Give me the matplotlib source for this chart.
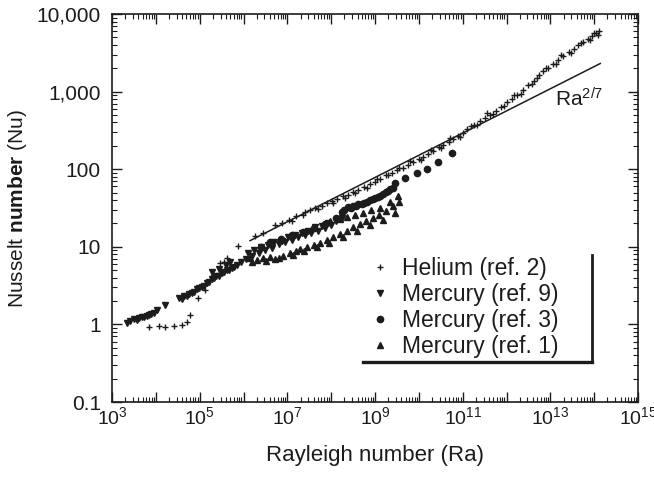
import numpy as np
import matplotlib
matplotlib.use("Agg")
import matplotlib.pyplot as plt
from matplotlib.ticker import LogLocator, FixedLocator, FuncFormatter, NullFormatter
from matplotlib.lines import Line2D

plt.rcParams['font.family'] = ['Liberation Sans', 'DejaVu Sans']
plt.rcParams['mathtext.fontset'] = 'custom'
plt.rcParams['mathtext.rm'] = 'Liberation Sans'
plt.rcParams['mathtext.it'] = 'Liberation Sans:italic'
plt.rcParams['mathtext.bf'] = 'Liberation Sans:bold'

# ---- data (log10 Ra, log10 Nu) ----
helium_logra = [3.84, 4.07, 4.21, 4.42, 4.60, 4.71, 4.78, 4.96, 5.12, 5.47, 5.56, 5.63, 5.88,
                6.26, 6.45, 6.72, 6.88, 7.04, 7.20, 7.41, 7.52, 7.63, 7.78, 7.91, 8.02, 8.14,
                8.26, 8.39, 8.50, 8.62, 8.75, 8.89, 9.00, 9.12, 9.25, 9.39, 9.50, 9.64, 9.75,
                9.87, 10.00, 10.10, 10.22, 10.33, 10.45, 10.56, 10.68, 10.79, 10.90, 11.01,
                11.11, 11.25, 11.40, 11.50, 11.62, 11.75, 11.88, 12.00, 12.12, 12.25, 12.38,
                12.50, 12.62, 12.75, 12.84, 12.95, 13.07, 13.18, 13.30, 13.42, 13.53, 13.64,
                13.75, 13.86, 13.96, 14.05, 14.12,
                7.10, 7.35, 7.70, 8.05, 8.32, 8.55, 8.82, 9.05, 9.30, 9.55, 9.80, 10.05,
                10.28, 10.50, 10.72, 10.95, 11.18, 11.32, 11.55, 11.70, 11.95, 12.18, 12.32,
                12.58, 12.70, 12.90, 13.12, 13.25, 13.48, 13.70, 13.90, 14.00, 14.08]
helium_lognu = [-0.03, -0.02, -0.03, -0.02, -0.01, 0.03, 0.12, 0.34, 0.44, 0.79, 0.80, 0.86, 1.01,
                1.14, 1.18, 1.28, 1.31, 1.35, 1.40, 1.45, 1.47, 1.50, 1.53, 1.56, 1.59, 1.62,
                1.65, 1.67, 1.70, 1.73, 1.77, 1.81, 1.84, 1.88, 1.92, 1.95, 1.99, 2.02, 2.05,
                2.09, 2.13, 2.16, 2.20, 2.23, 2.28, 2.31, 2.35, 2.39, 2.43, 2.47,
                2.52, 2.57, 2.62, 2.66, 2.70, 2.75, 2.80, 2.86, 2.90, 2.96, 3.02,
                3.08, 3.14, 3.21, 3.26, 3.30, 3.35, 3.41, 3.46, 3.51, 3.55, 3.60,
                3.64, 3.68, 3.72, 3.75, 3.78,
                1.33, 1.41, 1.49, 1.57, 1.63, 1.69, 1.76, 1.87, 1.93, 2.02, 2.10, 2.12,
                2.25, 2.27, 2.40, 2.42, 2.56, 2.57, 2.72, 2.71, 2.82, 2.95, 2.97,
                3.10, 3.18, 3.31, 3.36, 3.47, 3.50, 3.63, 3.67, 3.76, 3.73]

hg9_logra = [3.34, 3.42, 3.50, 3.56, 3.62, 3.68, 3.73, 3.79, 3.84, 3.90, 3.96, 4.03, 4.21,
             4.53, 4.60, 4.64, 4.70, 4.76, 4.82, 4.87, 4.93, 4.99, 5.05, 5.10, 5.16, 5.21,
             5.27, 5.28, 5.33, 5.38, 5.44, 5.45, 5.50, 5.56, 5.60, 5.62, 5.67, 5.70, 5.73,
             5.79, 5.85, 5.95, 6.05, 6.20, 6.35, 6.50, 6.65, 6.80, 6.95, 7.10, 7.25, 7.40,
             7.55, 7.70, 7.85, 8.00,
             6.10, 6.25, 6.40, 6.55, 6.70, 6.87, 7.02, 7.18, 7.33, 7.48, 7.62, 7.78, 7.92,
             8.10, 8.25]
hg9_lognu = [0.02, 0.05, 0.07, 0.06, 0.08, 0.09, 0.10, 0.11, 0.12, 0.14, 0.15, 0.19, 0.25,
             0.34, 0.33, 0.36, 0.37, 0.39, 0.40, 0.42, 0.45, 0.47, 0.48, 0.50, 0.53, 0.55,
             0.58, 0.68, 0.60, 0.62, 0.63, 0.72, 0.66, 0.68, 0.76, 0.70, 0.70, 0.80, 0.73,
             0.74, 0.76, 0.80, 0.84, 0.88, 0.92, 0.96, 0.99, 1.03, 1.06, 1.09, 1.12, 1.15,
             1.18, 1.21, 1.24, 1.28,
             0.92, 0.96, 1.00, 1.02, 1.06, 1.08, 1.12, 1.15, 1.18, 1.21, 1.25, 1.27, 1.31,
             1.33, 1.37]

hg3_logra = [6.40, 6.60, 6.85, 7.10, 7.35, 7.60, 7.85, 8.10, 8.25, 8.39, 8.50, 8.62, 8.75,
             8.88, 9.00, 9.12, 9.25, 9.35, 9.46, 9.69, 9.96, 10.19, 10.44, 10.76,
             8.30, 8.45, 8.57, 8.70, 8.82, 8.95, 9.06, 9.18, 9.30, 9.40]
hg3_lognu = [1.00, 1.06, 1.10, 1.15, 1.19, 1.24, 1.29, 1.37, 1.45, 1.51, 1.53, 1.55, 1.57,
             1.60, 1.63, 1.66, 1.71, 1.74, 1.82, 1.89, 1.95, 2.00, 2.09, 2.21,
             1.48, 1.50, 1.52, 1.55, 1.58, 1.61, 1.64, 1.68, 1.72, 1.76]

hg1_logra = [6.15, 6.30, 6.45, 6.61, 6.72, 6.90, 7.05, 7.20, 7.29, 7.45, 7.60, 7.75, 7.90,
             8.05, 8.20, 8.35, 8.50, 8.65, 8.80, 8.95, 9.10, 9.25, 9.40, 9.55,
             7.98, 8.20, 8.37, 8.55, 8.73, 8.92, 9.12, 9.35, 9.53,
             6.20, 6.52, 6.80, 7.12, 7.38, 7.68, 7.95, 8.28, 8.58, 8.88, 9.18, 9.45]
hg1_lognu = [0.86, 0.83, 0.86, 0.87, 0.84, 0.88, 0.92, 0.95, 0.97, 1.00, 1.02, 1.05, 1.09,
             1.13, 1.17, 1.21, 1.25, 1.29, 1.33, 1.37, 1.41, 1.46, 1.52, 1.58,
             1.33, 1.36, 1.38, 1.41, 1.44, 1.47, 1.50, 1.58, 1.66,
             0.80, 0.82, 0.86, 0.90, 0.95, 1.00, 1.05, 1.13, 1.20, 1.28, 1.35, 1.44]

# Ra^(2/7) reference line
fit_coef = 0.21
fit_exp = 2.0 / 7.0
fit_ra_range = [10**6.15, 10**14.14]

legend_labels = ["Helium (ref. 2)", "Mercury (ref. 9)", "Mercury (ref. 3)", "Mercury (ref. 1)"]
ytick_vals = [0.1, 1, 10, 100, 1000, 10000]
ytick_labels = ["0.1", "1", "10", "100", "1,000", "10,000"]

ink = "#1c1c1c"

fig = plt.figure(figsize=(6.54, 4.79), dpi=100)
ax = fig.add_axes([112/654, 1-402/479, (638-112)/654, (402-14)/479])
ax.set_xscale('log')
ax.set_yscale('log')
ax.set_xlim(1e3, 1e15)
ax.set_ylim(0.1, 1e4)

def pw(a):
    return np.power(10.0, np.asarray(a))

h1, = ax.plot(pw(helium_logra), pw(helium_lognu), ls='none', marker='+', ms=5, mew=1.0, color=ink)
h2, = ax.plot(pw(hg9_logra), pw(hg9_lognu), ls='none', marker='v', ms=5, color=ink, mec=ink)
h3, = ax.plot(pw(hg3_logra), pw(hg3_lognu), ls='none', marker='o', ms=4.5, color=ink, mec=ink)
h4, = ax.plot(pw(hg1_logra), pw(hg1_lognu), ls='none', marker='^', ms=5, color=ink, mec=ink)

fx = np.array(fit_ra_range)
ax.plot(fx, fit_coef * fx**fit_exp, color=ink, lw=1.1)
ax.text(10**13.11, 10**2.9, r"Ra$^{2/7}$", fontsize=15, ha='left', va='center', color=ink)

# ticks
ax.xaxis.set_major_locator(LogLocator(base=10, numticks=30))
ax.xaxis.set_minor_locator(LogLocator(base=10, subs=np.arange(2, 10), numticks=30))
def xfmt(v, pos):
    e = int(round(np.log10(v)))
    return r"$10^{%d}$" % e if e % 2 == 1 else ""
ax.xaxis.set_major_formatter(FuncFormatter(xfmt))
ax.xaxis.set_minor_formatter(NullFormatter())
ax.yaxis.set_major_locator(FixedLocator(ytick_vals))
ax.yaxis.set_minor_locator(LogLocator(base=10, subs=np.arange(2, 10), numticks=30))
ax.set_yticklabels(ytick_labels)
ax.yaxis.set_minor_formatter(NullFormatter())
ax.tick_params(which='both', direction='in', top=True, right=True, color=ink)
ax.tick_params(which='major', length=7, width=1.0)
ax.tick_params(which='minor', length=3.5, width=0.8)
ax.tick_params(axis='x', which='major', labelsize=14, pad=3, labelcolor=ink)
ax.tick_params(axis='y', which='major', labelsize=15, pad=8, labelcolor=ink)
for s in ax.spines.values():
    s.set_linewidth(1.2)
    s.set_color(ink)

ax.set_xlabel("Rayleigh number (Ra)", fontsize=16, color=ink, labelpad=12)
ax.set_ylabel(r"Nusselt $\mathbf{number}$ (Nu)", fontsize=15, color=ink)
ax.yaxis.set_label_coords(-0.158, 0.5)

leg = ax.legend([h1, h2, h3, h4], legend_labels, loc='upper left',
                bbox_to_anchor=(0.47, 0.397), frameon=False, fontsize=16.5,
                handlelength=1.0, handletextpad=0.45, labelspacing=0.13,
                borderaxespad=0, markerscale=1.0)
for t in leg.get_texts():
    t.set_color(ink)

# shadow-style legend border (right and bottom only)
ax.add_line(Line2D([0.477, 0.9125], [0.103, 0.103], transform=ax.transAxes, color=ink, lw=2.4))
ax.add_line(Line2D([0.9125, 0.9125], [0.103, 0.378], transform=ax.transAxes, color=ink, lw=2.0))

fig.savefig("out.png", dpi=100)
